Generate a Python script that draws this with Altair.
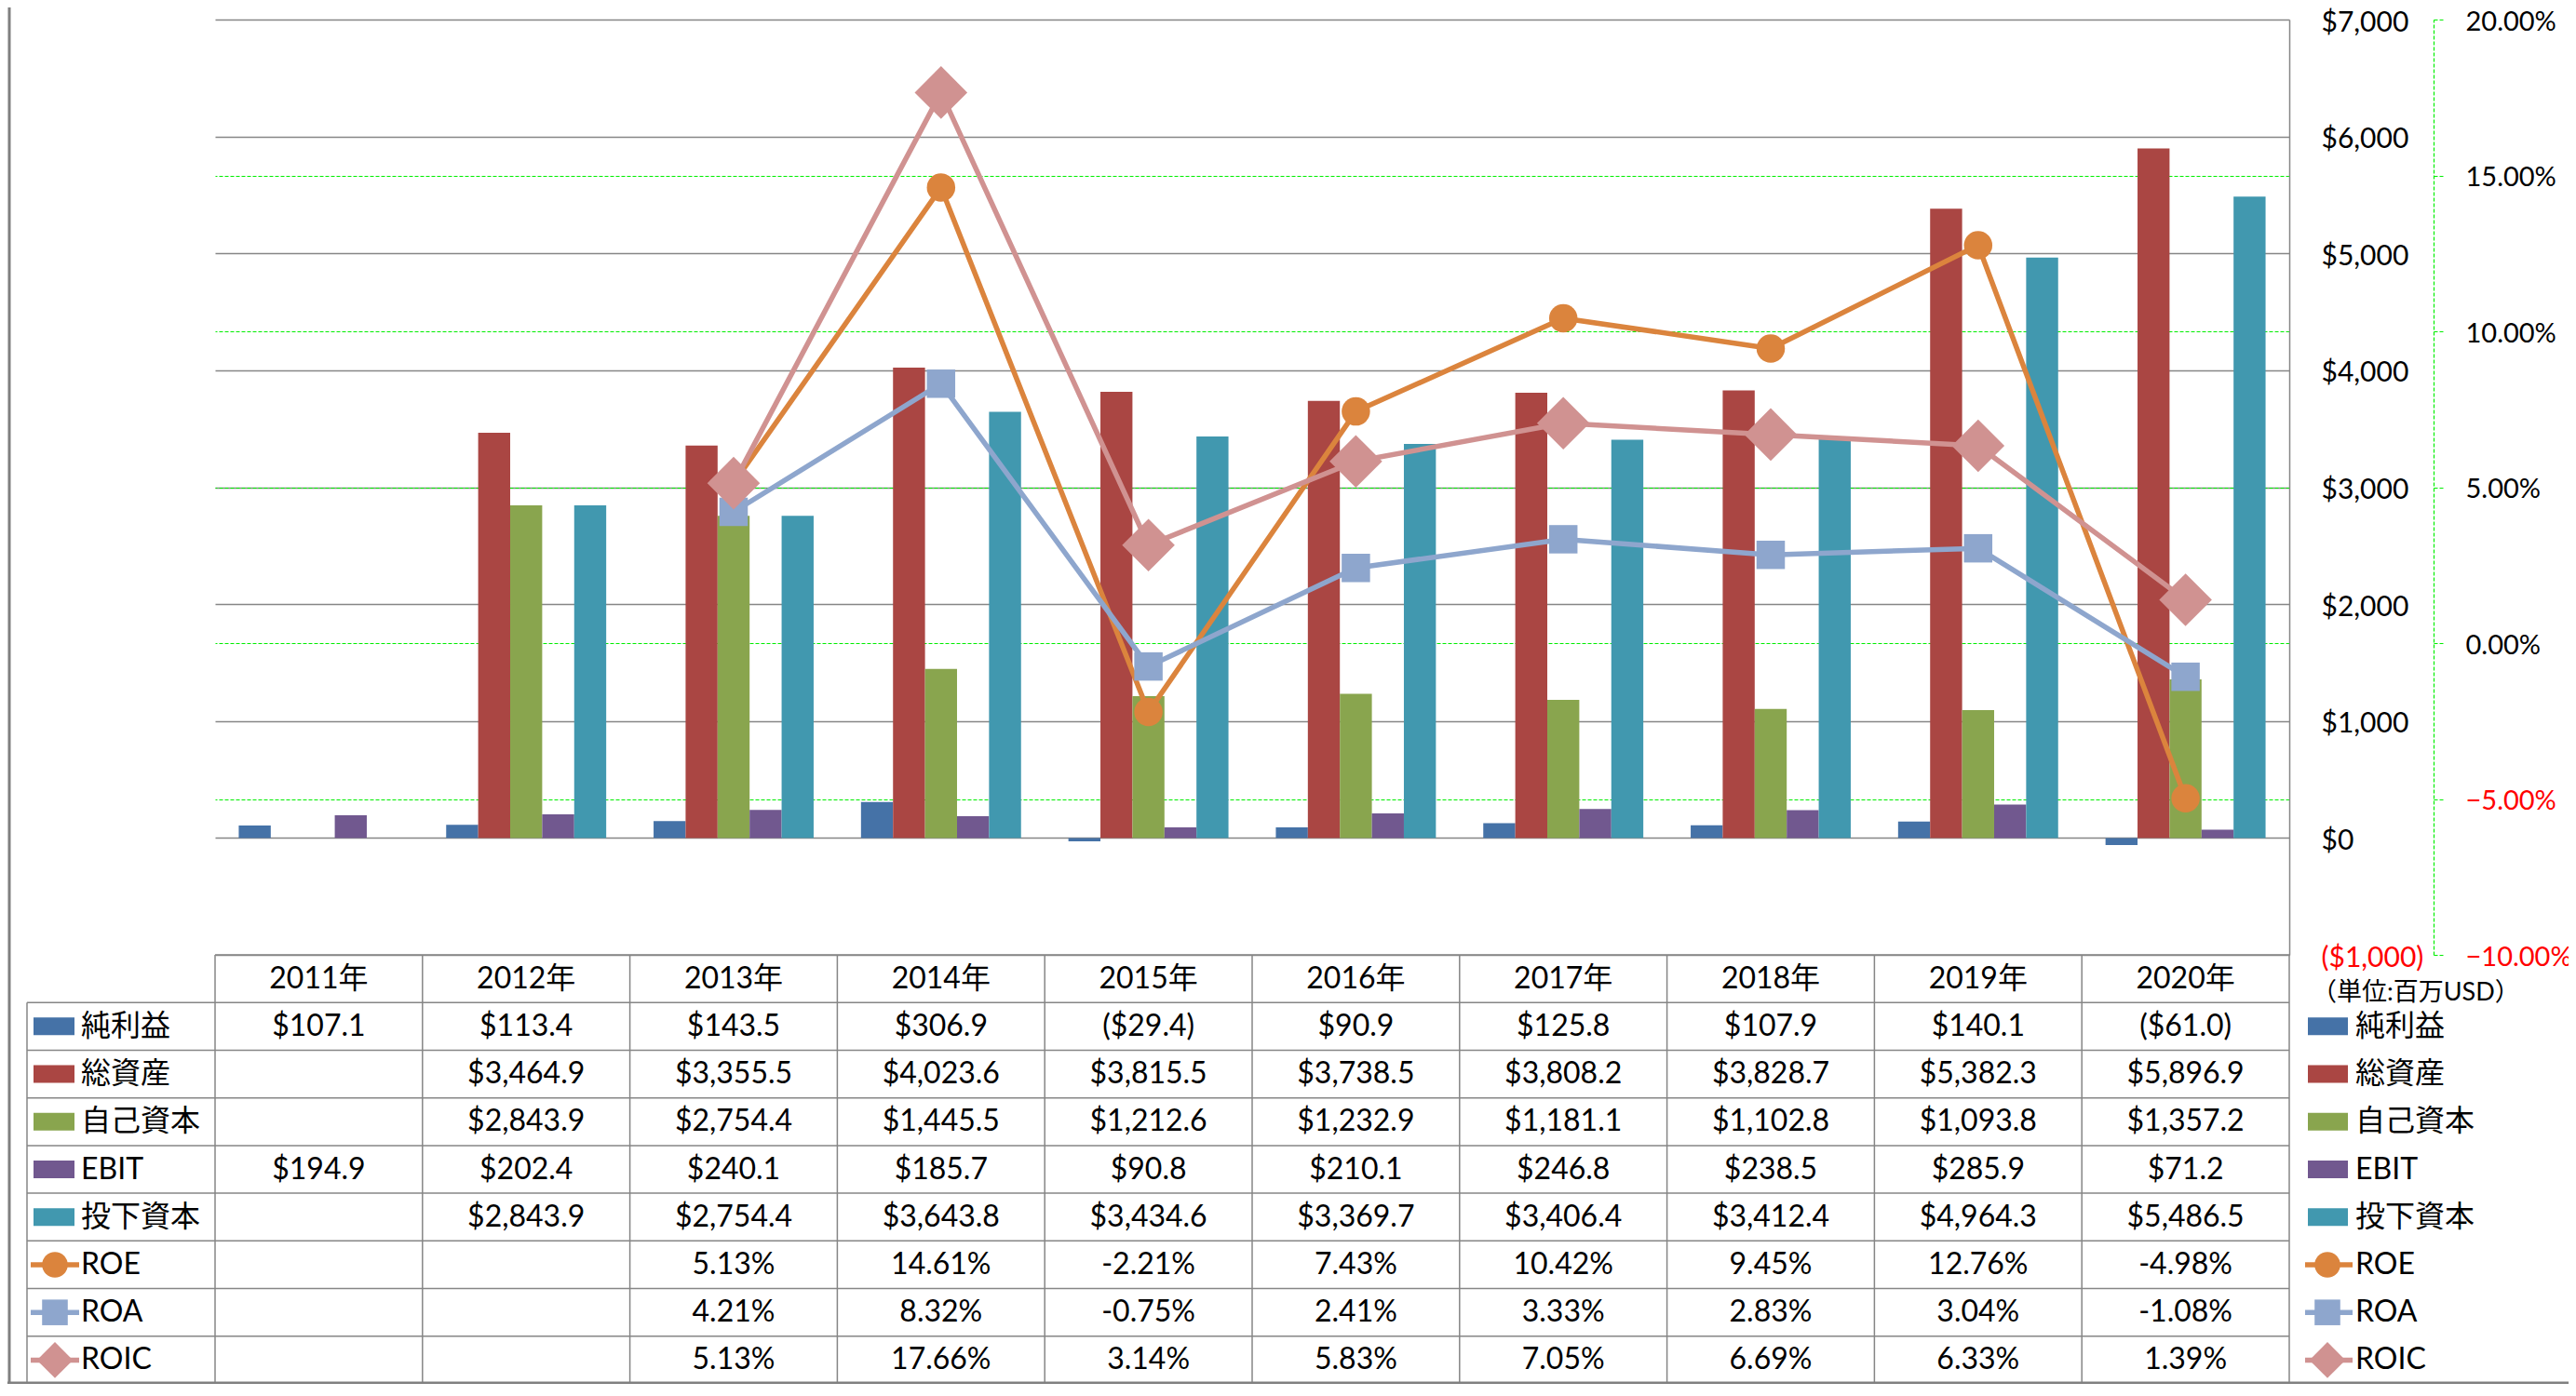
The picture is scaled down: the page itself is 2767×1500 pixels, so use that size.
import altair as alt
import pandas as pd

# ---------------- data ----------------
years = ["2011年", "2012年", "2013年", "2014年", "2015年", "2016年", "2017年", "2018年", "2019年", "2020年"]
bar_series = ["純利益", "総資産", "自己資本", "EBIT", "投下資本"]
line_series = ["ROE", "ROA", "ROIC"]

net_income = [107.1, 113.4, 143.5, 306.9, -29.4, 90.9, 125.8, 107.9, 140.1, -61.0]
total_assets = [None, 3464.9, 3355.5, 4023.6, 3815.5, 3738.5, 3808.2, 3828.7, 5382.3, 5896.9]
equity = [None, 2843.9, 2754.4, 1445.5, 1212.6, 1232.9, 1181.1, 1102.8, 1093.8, 1357.2]
ebit = [194.9, 202.4, 240.1, 185.7, 90.8, 210.1, 246.8, 238.5, 285.9, 71.2]
invested_capital = [None, 2843.9, 2754.4, 3643.8, 3434.6, 3369.7, 3406.4, 3412.4, 4964.3, 5486.5]
roe = [None, None, 5.13, 14.61, -2.21, 7.43, 10.42, 9.45, 12.76, -4.98]
roa = [None, None, 4.21, 8.32, -0.75, 2.41, 3.33, 2.83, 3.04, -1.08]
roic = [None, None, 5.13, 17.66, 3.14, 5.83, 7.05, 6.69, 6.33, 1.39]

usd_ticks = [-1000, 0, 1000, 2000, 3000, 4000, 5000, 6000, 7000]
pct_ticks = [-0.10, -0.05, 0.0, 0.05, 0.10, 0.15, 0.20]
unit_label = "（単位:百万USD）"

bar_colors = ["#4572A7", "#AA4643", "#89A54E", "#71588F", "#4198AF"]
line_colors = ["#DB843D", "#8EA6CD", "#D09291"]
line_shapes = ["circle", "square", "diamond"]

# ---------------- tables ----------------
bar_values = [net_income, total_assets, equity, ebit, invested_capital]
line_values = [roe, roa, roic]

bar_rows = []
for s, vals in zip(bar_series, bar_values):
    for y, v in zip(years, vals):
        if v is not None:
            bar_rows.append({"year": y, "series": s, "value": v})
bars_df = pd.DataFrame(bar_rows)

line_rows = []
for s, vals in zip(line_series, line_values):
    for y, v in zip(years, vals):
        if v is not None:
            line_rows.append({"year": y, "series": s, "value": v / 100.0})
lines_df = pd.DataFrame(line_rows)


def fmt_money(v):
    s = "${:,.1f}".format(abs(v))
    return "(" + s + ")" if v < 0 else s


row_keys = ["header"] + bar_series + line_series
cell_rows = [{"row": "header", "year": y, "label": y} for y in years]
for s, vals in zip(bar_series, bar_values):
    for y, v in zip(years, vals):
        if v is not None:
            cell_rows.append({"row": s, "year": y, "label": fmt_money(v)})
for s, vals in zip(line_series, line_values):
    for y, v in zip(years, vals):
        if v is not None:
            cell_rows.append({"row": s, "year": y, "label": "{:.2f}%".format(v)})
cells_df = pd.DataFrame(cell_rows)

rows_df = pd.DataFrame({"row": row_keys})
years_df = pd.DataFrame({"year": years})
bar_leg_df = pd.DataFrame({"row": bar_series, "series": bar_series})
line_leg_df = pd.DataFrame({"row": line_series, "series": line_series})
series_df = pd.DataFrame({"row": bar_series + line_series, "series": bar_series + line_series})

# ---------------- layout ----------------
W = 2228
PLOT_H = 1005
H = 1466
GRID = "#868686"
FONT = "Lato, 'Noto Sans CJK JP', sans-serif"
TFS = 32

xscale = alt.Scale(domain=years, paddingInner=0, paddingOuter=0)
X = alt.X("year:N", scale=xscale, axis=None)
color_scale = alt.Scale(domain=bar_series + line_series, range=bar_colors + line_colors)
COLOR = alt.Color("series:N", scale=color_scale, legend=None)
shape_scale = alt.Scale(domain=line_series, range=line_shapes)
SHAPE = alt.Shape("series:N", scale=shape_scale, legend=None)

# bars on the USD axis
bars = alt.Chart(bars_df).mark_bar().encode(
    x=X,
    xOffset=alt.XOffset("series:N", scale=alt.Scale(domain=bar_series, paddingInner=0, paddingOuter=0.74)),
    y=alt.Y(
        "value:Q",
        scale=alt.Scale(domain=[-1000, 7000], range=[PLOT_H, 0], nice=False, zero=False),
        axis=alt.Axis(
            orient="right", values=usd_ticks, format="($,.0f", title=None,
            grid=True, gridColor=GRID, gridWidth=1.3,
            domain=True, domainColor=GRID, domainWidth=1.5,
            ticks=False, tickSize=0, labelPadding=34, labelAlign="left", labelBaseline="middle",
            labelOffset=3, labelFontSize=30, labelFont=FONT,
            labelColor=alt.condition("datum.value < 0", alt.value("#FF0000"), alt.value("#000000")),
        ),
    ),
    color=COLOR,
)

# ratio lines on the % axis
pct_y = alt.Y(
    "value:Q",
    scale=alt.Scale(domain=[-0.10, 0.20], range=[PLOT_H, 0], nice=False, zero=False),
    axis=alt.Axis(
        orient="right", offset=155, values=pct_ticks, format=".2%", title=None,
        grid=True,
        gridColor={"condition": {"test": "datum.value >= 0.199 || datum.value <= -0.099", "value": "transparent"}, "value": "#00EE00"},
        gridDash=[4, 2], gridWidth=1.2,
        domain=True, domainColor="#00EE00", domainDash=[4, 2], domainWidth=1.2,
        ticks=True, tickColor="#00EE00", tickDash=[4, 2], tickSize=12, tickWidth=1.2,
        labelPadding=22, labelAlign="left", labelBaseline="middle",
        labelOffset=2, labelFontSize=29, labelFont=FONT,
        labelColor=alt.condition("datum.value < 0", alt.value("#FF0000"), alt.value("#000000")),
    ),
)
lines = alt.Chart(lines_df).mark_line(strokeWidth=5.5, strokeJoin="round").encode(
    x=X, y=pct_y, color=COLOR
)
points_cs = alt.Chart(lines_df).transform_filter("datum.series != 'ROIC'").mark_point(
    filled=True, opacity=1, size=930).encode(x=X, y=pct_y, color=COLOR, shape=SHAPE)
points_d = alt.Chart(lines_df).transform_filter("datum.series == 'ROIC'").mark_point(
    filled=True, opacity=1, size=3200).encode(x=X, y=pct_y, color=COLOR, shape=SHAPE)
pct_group = alt.layer(lines, points_cs, points_d)

# data table below the plot
rscale = alt.Scale(domain=row_keys, range=[PLOT_H, H], paddingInner=0, paddingOuter=0)


def YR(bp):
    return alt.Y("row:N", scale=rscale, axis=None, bandPosition=bp)


def XB(bp):
    return alt.X("year:N", scale=xscale, axis=None, bandPosition=bp)


rule_style = dict(color=GRID, strokeWidth=1.5)

h_header = alt.Chart(rows_df).transform_filter("datum.row == 'header'").mark_rule(**rule_style).encode(
    y=YR(0), x=alt.value(0), x2=alt.value(W))
h_rows = alt.Chart(rows_df).transform_filter("datum.row != 'header'").mark_rule(**rule_style).encode(
    y=YR(0), x=alt.value(-202), x2=alt.value(W))
h_bottom = alt.Chart(rows_df).transform_filter("datum.row == 'ROIC'").mark_rule(**rule_style).encode(
    y=YR(1), x=alt.value(-202), x2=alt.value(W))
v_cols = alt.Chart(years_df).mark_rule(**rule_style).encode(
    x=XB(0), y=alt.value(PLOT_H), y2=alt.value(H))
v_right = alt.Chart(years_df).transform_filter("datum.year == '2020年'").mark_rule(**rule_style).encode(
    x=XB(1), y=alt.value(PLOT_H), y2=alt.value(H))
v_left = alt.Chart(rows_df).transform_filter("datum.row == '純利益'").mark_rule(**rule_style).encode(
    y=YR(0), y2=alt.value(H), x=alt.value(-202))

cells = alt.Chart(cells_df).mark_text(fontSize=TFS, font=FONT, align="center", baseline="middle", color="#000000").encode(
    x=XB(0.5), y=YR(0.5), text="label:N")


# legend keys (left inside table, right outside)
def legend_keys(x0, x1, xm, xt):
    sw = alt.Chart(bar_leg_df).mark_rule(strokeWidth=19, strokeCap="butt").encode(
        y=YR(0.5), x=alt.value(x0), x2=alt.value(x1), color=COLOR)
    ln = alt.Chart(line_leg_df).mark_rule(strokeWidth=5.5, strokeCap="butt").encode(
        y=YR(0.5), x=alt.value(x0 - 3), x2=alt.value(x1 + 5), color=COLOR)
    pt = alt.Chart(line_leg_df).transform_filter("datum.series != 'ROIC'").mark_point(
        filled=True, opacity=1, size=760).encode(
        y=YR(0.5), x=alt.value(xm), color=COLOR, shape=SHAPE)
    pd_ = alt.Chart(line_leg_df).transform_filter("datum.series == 'ROIC'").mark_point(
        filled=True, opacity=1, size=1500).encode(
        y=YR(0.5), x=alt.value(xm), color=COLOR, shape=SHAPE)
    tx = alt.Chart(series_df).mark_text(fontSize=TFS, font=FONT, align="left", baseline="middle", color="#000000").encode(
        y=YR(0.5), x=alt.value(xt), text="series:N")
    return [sw, ln, pt, pd_, tx]


left_keys = legend_keys(-195, -151, -172, -144)
right_keys = legend_keys(2248, 2291, 2269, 2299)

unit = alt.Chart(pd.DataFrame({"t": [unit_label]})).mark_text(
    fontSize=27, font=FONT, align="left", baseline="middle", color="#000000").encode(
    x=alt.value(2252), y=alt.value(PLOT_H + 41), text="t:N")

# image frame (left and bottom edges only, so it never crosses axis text)
one = pd.DataFrame({"t": [0]})
frame_left = alt.Chart(one).mark_rule(color="#808080", strokeWidth=3).encode(
    x=alt.value(-221), y=alt.value(-13), y2=alt.value(H))
frame_bottom = alt.Chart(one).mark_rule(color="#808080", strokeWidth=3).encode(
    y=alt.value(H - 1), x=alt.value(-223), x2=alt.value(W + 300))

table_group = alt.layer(h_header, h_rows, h_bottom, v_cols, v_right, v_left, cells,
                        *left_keys, *right_keys, unit, frame_left, frame_bottom)

chart = alt.layer(bars, pct_group, table_group).resolve_scale(y="independent").properties(
    width=W, height=H,
    padding={"left": 223, "top": 13, "right": 300, "bottom": 0},
    autosize=alt.AutoSizeParams(type="none"),
).configure(font=FONT).configure_view(stroke=None)

chart.save("out.html", embed_options={"renderer": "svg", "actions": False})
